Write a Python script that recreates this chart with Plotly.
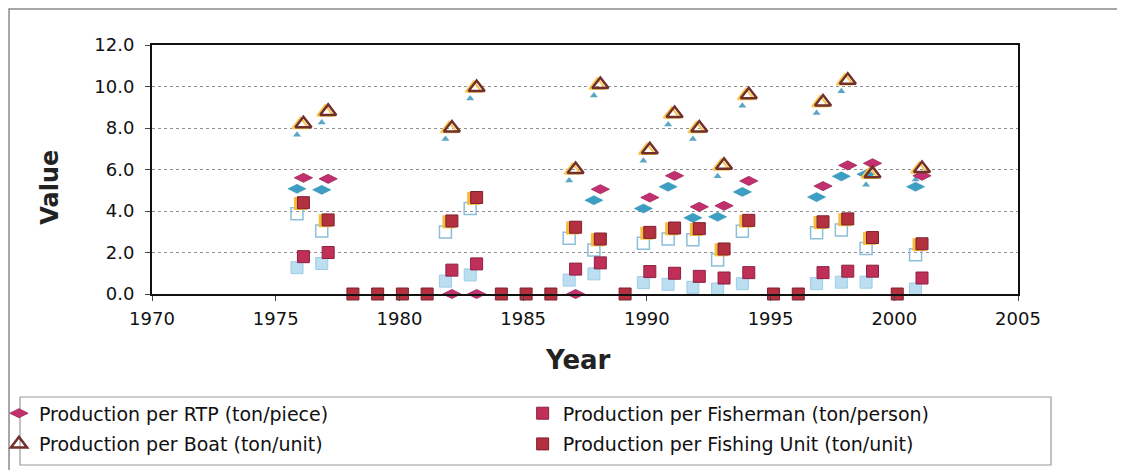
import plotly.graph_objects as go

# ---------------- data ----------------
years = list(range(1976, 2002))
rtp = [5.6, 5.55, None, None, None, None, 0.0, 0.0, None, None, None, 0.0, 5.05, None,
       4.65, 5.7, 4.2, 4.25, 5.45, None, None, 5.2, 6.2, 6.3, None, 5.7]
boat = [8.2, 8.8, None, None, None, None, 8.0, 9.95, None, None, None, 6.0, 10.1, None,
        6.95, 8.7, 8.0, 6.2, 9.6, None, None, 9.25, 10.3, 5.8, None, 6.05]
fisherman = [1.8, 2.0, None, None, None, None, 1.15, 1.45, None, None, None, 1.2, 1.5, None,
             1.08, 1.0, 0.85, 0.77, 1.03, None, None, 1.03, 1.1, 1.1, None, 0.77]
fishing_unit = [4.4, 3.57, 0, 0, 0, 0, 3.52, 4.65, 0, 0, 0, 3.22, 2.65, 0,
                2.97, 3.18, 3.15, 2.17, 3.55, 0, 0, 3.48, 3.62, 2.72, 0, 2.42]

series_names = ["Production per RTP (ton/piece)",
                "Production per Boat (ton/unit)",
                "Production per Fisherman (ton/person)",
                "Production per Fishing Unit (ton/unit)"]

x_ticks = [1970, 1975, 1980, 1985, 1990, 1995, 2000, 2005]
x_tick_labels = ["1970", "1975", "1980", "1985", "1990", "1995", "2000", "2005"]
y_ticks = [0, 2, 4, 6, 8, 10, 12]
y_tick_labels = ["0.0", "2.0", "4.0", "6.0", "8.0", "10.0", "12.0"]

x_title = "Year"
y_title = "Value"

# ---------------- styling ----------------
FONT = "DejaVu Sans"
X_RANGE = [1970, 2005]
Y_RANGE = [0, 12]
# print mis-registration of the scanned picture (offset colour layers)
SHADOW_DX, SHADOW_DY = 0.14, 0.53
MAIN_DX = -0.12

fig = go.Figure()

# empty trace so that the base (visible) axes form their own subplot
fig.add_trace(go.Scatter(x=[], y=[], xaxis="x", yaxis="y", showlegend=False,
                         hoverinfo="skip"))

def add(y, axes, name=None, legend=None, **marker):
    fig.add_trace(go.Scatter(
        x=years, y=y, mode="markers", xaxis=axes[0], yaxis=axes[1],
        name=name, showlegend=name is not None, legend=legend,
        legendgroup=name, cliponaxis=False, marker=marker, hoverinfo="skip"))

# shadow (cyan) layer
add(rtp, ("x2", "y2"), symbol="diamond-wide", size=13, color="#3C9EC3",
    line=dict(width=0.5, color="#3590B3"))
add(boat, ("x2", "y2"), symbol="triangle-up", size=7, color="#5AA6C6",
    line=dict(width=0))
add(fisherman, ("x2", "y2"), symbol="square", size=12, color="rgba(170,214,238,0.8)",
    line=dict(width=1, color="#9CCDE6"))
add(fishing_unit, ("x2", "y2"), symbol="square-open", size=12, color="#8BBFDA",
    line=dict(width=1.5))

# yellow layer
add(boat, ("x3", "y3"), symbol="triangle-up-open", size=14, color="#F8C850",
    line=dict(width=2))
add(fishing_unit, ("x3", "y3"), symbol="square", size=13, color="#F6BC3A",
    line=dict(width=0))

# main layer
add(rtp, ("x4", "y4"), series_names[0], "legend", symbol="diamond-wide", size=13,
    color="#C3306F", line=dict(width=0.8, color="#A02658"))
add(boat, ("x4", "y4"), series_names[1], "legend", symbol="triangle-up-open", size=14,
    color="#72302A", line=dict(width=2.5))
add(fisherman, ("x4", "y4"), series_names[2], "legend2", symbol="square", size=12,
    color="#C02F58", line=dict(width=1, color="#8C2240"))
add(fishing_unit, ("x4", "y4"), series_names[3], "legend2", symbol="square", size=12,
    color="#B3303F", line=dict(width=1, color="#802030"))

tickfont = dict(family=FONT, size=18, color="#111")
legfont = dict(family=FONT, size=19, color="#111")
fig.update_layout(
    width=1117, height=462,
    margin=dict(l=144, r=107, t=37, b=176, autoexpand=False),
    paper_bgcolor="white", plot_bgcolor="white",
    font=dict(family=FONT, color="#111"),
    xaxis=dict(range=X_RANGE, tickvals=x_ticks, ticktext=x_tick_labels, showgrid=False,
               zeroline=False, showline=True, linecolor="#111", linewidth=2, mirror=True,
               ticks="outside", ticklen=5, tickcolor="#444", tickfont=tickfont,
               ticklabelstandoff=2, automargin=False),
    yaxis=dict(range=Y_RANGE, tickvals=y_ticks, ticktext=y_tick_labels, showgrid=True,
               gridcolor="#8f8f8f", griddash="dot", gridwidth=1, zeroline=False,
               showline=True, linecolor="#111", linewidth=2, mirror=True,
               ticks="outside", ticklen=5, tickcolor="#444", tickfont=tickfont,
               ticklabelstandoff=7, automargin=False),
    xaxis2=dict(overlaying="x", range=[X_RANGE[0] + SHADOW_DX, X_RANGE[1] + SHADOW_DX],
                visible=False),
    yaxis2=dict(overlaying="y", range=[Y_RANGE[0] + SHADOW_DY, Y_RANGE[1] + SHADOW_DY],
                visible=False),
    xaxis3=dict(overlaying="x", range=X_RANGE, visible=False),
    yaxis3=dict(overlaying="y", range=[Y_RANGE[0] + 0.04, Y_RANGE[1] + 0.04], visible=False),
    xaxis4=dict(overlaying="x", range=[X_RANGE[0] + MAIN_DX, X_RANGE[1] + MAIN_DX],
                visible=False),
    yaxis4=dict(overlaying="y", range=Y_RANGE, visible=False),
    legend=dict(x=-0.1767, y=-0.403, xanchor="left", yanchor="top",
                bgcolor="rgba(0,0,0,0)", borderwidth=0, tracegroupgap=3, font=legfont),
    legend2=dict(x=0.428, y=-0.403, xanchor="left", yanchor="top",
                 bgcolor="rgba(0,0,0,0)", borderwidth=0, tracegroupgap=3, font=legfont),
    annotations=[
        dict(text="<b>" + x_title + "</b>", xref="paper", yref="paper", x=0.492, y=-0.265,
             xanchor="center", yanchor="middle", showarrow=False,
             font=dict(family=FONT, size=26, color="#222")),
        dict(text="<b>" + y_title + "</b>", xref="paper", yref="paper", x=-0.118, y=0.43,
             xanchor="center", yanchor="middle", textangle=-90, showarrow=False,
             font=dict(family=FONT, size=24, color="#222")),
    ],
    shapes=[
        dict(type="rect", xref="paper", yref="paper", x0=-0.1651, x1=1.15, y0=-0.74,
             y1=1.145, line=dict(color="#8a8a8a", width=1.5), layer="below"),
        dict(type="rect", xref="paper", yref="paper", x0=-0.1524, x1=1.0381, y0=-0.6867,
             y1=-0.4137, line=dict(color="#9a9a9a", width=1.2), layer="below"),
    ],
)

fig.write_html("out.html")
